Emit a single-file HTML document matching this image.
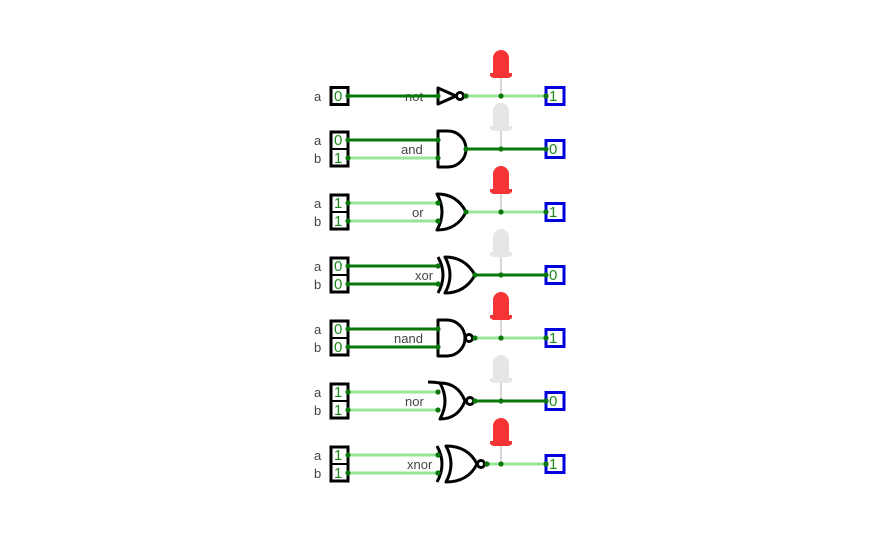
<!DOCTYPE html>
<html><head><meta charset="utf-8"><style>
html,body{margin:0;padding:0;background:#fff;width:894px;height:559px;overflow:hidden}
svg{display:block}
text{font-family:"Liberation Sans",sans-serif}
</style></head><body>
<svg width="894" height="559" viewBox="0 0 894 559" xmlns="http://www.w3.org/2000/svg">
<defs>
<g id="ledOn"><path d="M493,-23 V-38 A8,8 0 0 1 509,-38 V-23 H512 V-20 L509,-18 H493 L490,-20 V-23 Z" fill="#f53535"/></g>
<g id="ledOff"><path d="M493,-23 V-38 A8,8 0 0 1 509,-38 V-23 H512 V-20 L509,-18 H493 L490,-20 V-23 Z" fill="#e6e6e6"/></g>
</defs>
<style>
.d{stroke:#0b770b;stroke-width:3;fill:none}
.l{stroke:#98e698;stroke-width:3;fill:none}
.g{stroke:#000;stroke-width:3;fill:#fff;stroke-linejoin:round}
.gn{stroke:#000;stroke-width:3;fill:none}
.box{stroke:#000;stroke-width:3;fill:#fff}
.ob{stroke:#0000dd;stroke-width:3;fill:#fff}
.v{fill:#1a8a1a;font-size:15px}
.lab{fill:#444;font-size:13px}
.lb{fill:#444;font-size:13px}
.dot{fill:#0b770b}
.stem{stroke:#d8d8d8;stroke-width:2}
</style>

<g transform="translate(0,96)">
  <line class="stem" x1="501" y1="-18" x2="501" y2="0"/>
  <use href="#ledOn"/>
  <text class="lb" x="314" y="5">a</text>
  <rect class="box" x="331" y="-8.5" width="17" height="17"/>
  <text class="v" x="334" y="5">0</text>
  <text class="lab" x="405" y="5">not</text>
  <line class="d" x1="348" y1="0" x2="438" y2="0"/>
  <path class="g" d="M438,-8 L456,0 L438,8 Z"/>
  <circle cx="460" cy="0" r="3.5" class="g"/>
  <line class="l" x1="464" y1="0" x2="545" y2="0"/>
  <rect class="ob" x="546" y="-8.5" width="18" height="17"/>
  <text class="v" x="549" y="5">1</text>
  <circle class="dot" cx="348" cy="0" r="2.6"/><circle class="dot" cx="438" cy="0" r="2.6"/>
  <circle class="dot" cx="466" cy="0" r="2.6"/><circle class="dot" cx="501" cy="0" r="2.6"/><circle class="dot" cx="546" cy="0" r="2.6"/>
</g>

<g transform="translate(0,149)">
  <line class="stem" x1="501" y1="-18" x2="501" y2="0"/>
  <use href="#ledOff"/>
  <text class="lb" x="314" y="-4">a</text><text class="lb" x="314" y="14">b</text>
  <rect class="box" x="331" y="-17" width="17" height="34"/><line x1="331" y1="0" x2="348" y2="0" stroke="#000" stroke-width="2"/>
  <text class="v" x="334" y="-4">0</text><text class="v" x="334" y="14">1</text>
  <line class="d" x1="348" y1="-9" x2="438" y2="-9"/><line class="l" x1="348" y1="9" x2="438" y2="9"/>
  <text class="lab" x="401" y="5">and</text>
  <path class="g" d="M438,-18 H448 A18,18 0 0 1 448,18 H438 Z"/>
  <line class="d" x1="466" y1="0" x2="545" y2="0"/>
  <rect class="ob" x="546" y="-8.5" width="18" height="17"/><text class="v" x="549" y="5">0</text>
  <circle class="dot" cx="348" cy="-9" r="2.6"/><circle class="dot" cx="348" cy="9" r="2.6"/>
  <circle class="dot" cx="438" cy="-9" r="2.6"/><circle class="dot" cx="438" cy="9" r="2.6"/>
  <circle class="dot" cx="466" cy="0" r="2.6"/><circle class="dot" cx="501" cy="0" r="2.6"/><circle class="dot" cx="546" cy="0" r="2.6"/>
</g>

<g transform="translate(0,212)">
  <line class="stem" x1="501" y1="-18" x2="501" y2="0"/>
  <use href="#ledOn"/>
  <text class="lb" x="314" y="-4">a</text><text class="lb" x="314" y="14">b</text>
  <rect class="box" x="331" y="-17" width="17" height="34"/><line x1="331" y1="0" x2="348" y2="0" stroke="#000" stroke-width="2"/>
  <text class="v" x="334" y="-4">1</text><text class="v" x="334" y="14">1</text>
  <line class="l" x1="348" y1="-9" x2="438" y2="-9"/><line class="l" x1="348" y1="9" x2="438" y2="9"/>
  <text class="lab" x="412" y="5">or</text>
  <path class="g" d="M437,-18 Q457,-18 466,0 Q457,18 437,18 Q447,0 437,-18 Z"/>
  <line class="l" x1="466" y1="0" x2="545" y2="0"/>
  <rect class="ob" x="546" y="-8.5" width="18" height="17"/><text class="v" x="549" y="5">1</text>
  <circle class="dot" cx="348" cy="-9" r="2.6"/><circle class="dot" cx="348" cy="9" r="2.6"/>
  <circle class="dot" cx="438" cy="-9" r="2.6"/><circle class="dot" cx="438" cy="9" r="2.6"/>
  <circle class="dot" cx="466" cy="0" r="2.6"/><circle class="dot" cx="501" cy="0" r="2.6"/><circle class="dot" cx="546" cy="0" r="2.6"/>
</g>

<g transform="translate(0,275)">
  <line class="stem" x1="501" y1="-18" x2="501" y2="0"/>
  <use href="#ledOff"/>
  <text class="lb" x="314" y="-4">a</text><text class="lb" x="314" y="14">b</text>
  <rect class="box" x="331" y="-17" width="17" height="34"/><line x1="331" y1="0" x2="348" y2="0" stroke="#000" stroke-width="2"/>
  <text class="v" x="334" y="-4">0</text><text class="v" x="334" y="14">0</text>
  <line class="d" x1="348" y1="-9" x2="438" y2="-9"/><line class="d" x1="348" y1="9" x2="438" y2="9"/>
  <text class="lab" x="415" y="5">xor</text>
  <path class="gn" d="M438,-18 Q448,0 438,18"/>
  <path class="g" d="M445,-18 Q465,-18 475,0 Q465,18 445,18 Q455,0 445,-18 Z"/>
  <line class="d" x1="475" y1="0" x2="545" y2="0"/>
  <rect class="ob" x="546" y="-8.5" width="18" height="17"/><text class="v" x="549" y="5">0</text>
  <circle class="dot" cx="348" cy="-9" r="2.6"/><circle class="dot" cx="348" cy="9" r="2.6"/>
  <circle class="dot" cx="438" cy="-9" r="2.6"/><circle class="dot" cx="438" cy="9" r="2.6"/>
  <circle class="dot" cx="475" cy="0" r="2.6"/><circle class="dot" cx="501" cy="0" r="2.6"/><circle class="dot" cx="546" cy="0" r="2.6"/>
</g>

<g transform="translate(0,338)">
  <line class="stem" x1="501" y1="-18" x2="501" y2="0"/>
  <use href="#ledOn"/>
  <text class="lb" x="314" y="-4">a</text><text class="lb" x="314" y="14">b</text>
  <rect class="box" x="331" y="-17" width="17" height="34"/><line x1="331" y1="0" x2="348" y2="0" stroke="#000" stroke-width="2"/>
  <text class="v" x="334" y="-4">0</text><text class="v" x="334" y="14">0</text>
  <line class="d" x1="348" y1="-9" x2="438" y2="-9"/><line class="d" x1="348" y1="9" x2="438" y2="9"/>
  <text class="lab" x="394" y="5">nand</text>
  <path class="g" d="M438,-18 H447 A18,18 0 0 1 447,18 H438 Z"/>
  <circle cx="469" cy="0" r="3.5" class="g"/>
  <line class="l" x1="473" y1="0" x2="545" y2="0"/>
  <rect class="ob" x="546" y="-8.5" width="18" height="17"/><text class="v" x="549" y="5">1</text>
  <circle class="dot" cx="348" cy="-9" r="2.6"/><circle class="dot" cx="348" cy="9" r="2.6"/>
  <circle class="dot" cx="438" cy="-9" r="2.6"/><circle class="dot" cx="438" cy="9" r="2.6"/>
  <circle class="dot" cx="475" cy="0" r="2.6"/><circle class="dot" cx="501" cy="0" r="2.6"/><circle class="dot" cx="546" cy="0" r="2.6"/>
</g>

<g transform="translate(0,401)">
  <line class="stem" x1="501" y1="-18" x2="501" y2="0"/>
  <use href="#ledOff"/>
  <text class="lb" x="314" y="-4">a</text><text class="lb" x="314" y="14">b</text>
  <rect class="box" x="331" y="-17" width="17" height="34"/><line x1="331" y1="0" x2="348" y2="0" stroke="#000" stroke-width="2"/>
  <text class="v" x="334" y="-4">1</text><text class="v" x="334" y="14">1</text>
  <line class="l" x1="348" y1="-9" x2="438" y2="-9"/><line class="l" x1="348" y1="9" x2="438" y2="9"/>
  <text class="lab" x="405" y="5">nor</text>
  <path class="g" d="M440,-18 Q458,-18 465,0 Q458,18 440,18 Q450,0 440,-18 Z"/>
  <path class="gn" d="M428,-19 Q434,-19 440,-18"/>
  <circle cx="470" cy="0" r="3.5" class="g"/>
  <line class="d" x1="474" y1="0" x2="545" y2="0"/>
  <rect class="ob" x="546" y="-8.5" width="18" height="17"/><text class="v" x="549" y="5">0</text>
  <circle class="dot" cx="348" cy="-9" r="2.6"/><circle class="dot" cx="348" cy="9" r="2.6"/>
  <circle class="dot" cx="438" cy="-9" r="2.6"/><circle class="dot" cx="438" cy="9" r="2.6"/>
  <circle class="dot" cx="475" cy="0" r="2.6"/><circle class="dot" cx="501" cy="0" r="2.6"/><circle class="dot" cx="546" cy="0" r="2.6"/>
</g>

<g transform="translate(0,464)">
  <line class="stem" x1="501" y1="-18" x2="501" y2="0"/>
  <use href="#ledOn"/>
  <text class="lb" x="314" y="-4">a</text><text class="lb" x="314" y="14">b</text>
  <rect class="box" x="331" y="-17" width="17" height="34"/><line x1="331" y1="0" x2="348" y2="0" stroke="#000" stroke-width="2"/>
  <text class="v" x="334" y="-4">1</text><text class="v" x="334" y="14">1</text>
  <line class="l" x1="348" y1="-9" x2="438" y2="-9"/><line class="l" x1="348" y1="9" x2="438" y2="9"/>
  <text class="lab" x="407" y="5">xnor</text>
  <path class="gn" d="M437,-18 Q447,0 437,18"/>
  <path class="g" d="M446,-18 Q468,-18 477,0 Q468,18 446,18 Q456,0 446,-18 Z"/>
  <circle cx="481" cy="0" r="3.5" class="g"/>
  <line class="l" x1="485" y1="0" x2="545" y2="0"/>
  <rect class="ob" x="546" y="-8.5" width="18" height="17"/><text class="v" x="549" y="5">1</text>
  <circle class="dot" cx="348" cy="-9" r="2.6"/><circle class="dot" cx="348" cy="9" r="2.6"/>
  <circle class="dot" cx="438" cy="-9" r="2.6"/><circle class="dot" cx="438" cy="9" r="2.6"/>
  <circle class="dot" cx="487" cy="0" r="2.6"/><circle class="dot" cx="501" cy="0" r="2.6"/><circle class="dot" cx="546" cy="0" r="2.6"/>
</g>
</svg>
</body></html>
